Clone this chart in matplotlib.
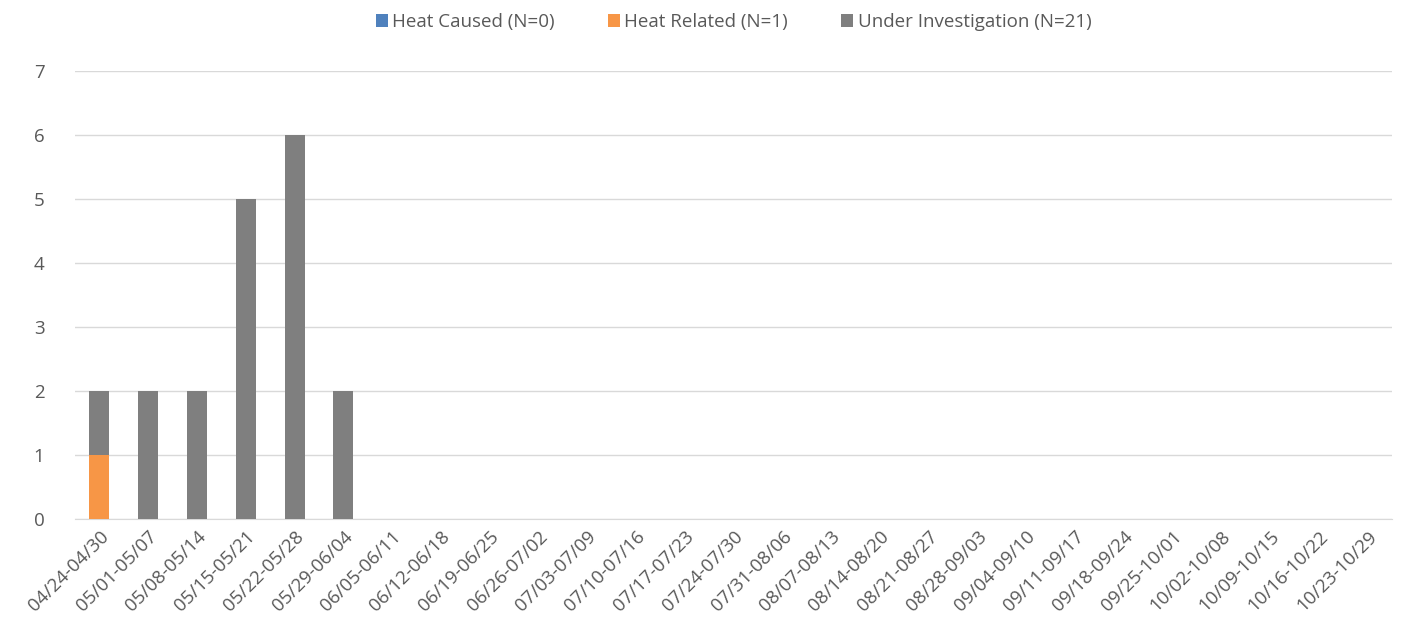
import matplotlib.pyplot as plt
import numpy as np

weeks = ['04/24-04/30', '05/01-05/07', '05/08-05/14', '05/15-05/21', '05/22-05/28',
         '05/29-06/04', '06/05-06/11', '06/12-06/18', '06/19-06/25', '06/26-07/02',
         '07/03-07/09', '07/10-07/16', '07/17-07/23', '07/24-07/30', '07/31-08/06',
         '08/07-08/13', '08/14-08/20', '08/21-08/27', '08/28-09/03', '09/04-09/10',
         '09/11-09/17', '09/18-09/24', '09/25-10/01', '10/02-10/08', '10/09-10/15',
         '10/16-10/22', '10/23-10/29']
heat_caused = np.array([0] * 27)
heat_related = np.array([1] + [0] * 26)
under_investigation = np.array([1, 2, 2, 5, 6, 2] + [0] * 21)

text_color = '#595959'
plt.rcParams['font.family'] = ['Open Sans', 'DejaVu Sans']

fig = plt.figure(figsize=(14.16, 6.42), dpi=100)
ax = fig.add_axes([0.053, 0.1916, 0.930, 0.6975])

x = np.arange(len(weeks))
bar_width = 0.41
ax.bar(x, heat_caused, width=bar_width, color='#4F81BD', label='Heat Caused (N=0)', zorder=3)
ax.bar(x, heat_related, width=bar_width, bottom=heat_caused, color='#F79646',
       label='Heat Related (N=1)', zorder=3)
ax.bar(x, under_investigation, width=bar_width, bottom=heat_caused + heat_related,
       color='#7F7F7F', label='Under Investigation (N=21)', zorder=3)

ax.set_xlim(-0.5, len(weeks) - 0.5)
ax.set_ylim(0, 7)
ax.set_yticks(range(0, 8))
ax.yaxis.grid(True, color='#D9D9D9', linewidth=1, zorder=0)
ax.set_xticks(x)
ax.set_xticklabels(weeks, rotation=45, ha='right', rotation_mode='anchor')
ax.tick_params(axis='both', length=0, labelsize=13.5, colors=text_color)
ax.tick_params(axis='y', pad=22)
ax.tick_params(axis='x', pad=6)
for s in ['top', 'right', 'left']:
    ax.spines[s].set_visible(False)
ax.spines['bottom'].set_color('#D9D9D9')

ax.legend(loc='upper center', bbox_to_anchor=(0.5, 1.168), ncol=3, frameon=False,
          fontsize=13.5, labelcolor=text_color, handlelength=0.65, handleheight=0.65,
          handletextpad=0.25, columnspacing=2.8)

plt.savefig('out.png', dpi=100)
